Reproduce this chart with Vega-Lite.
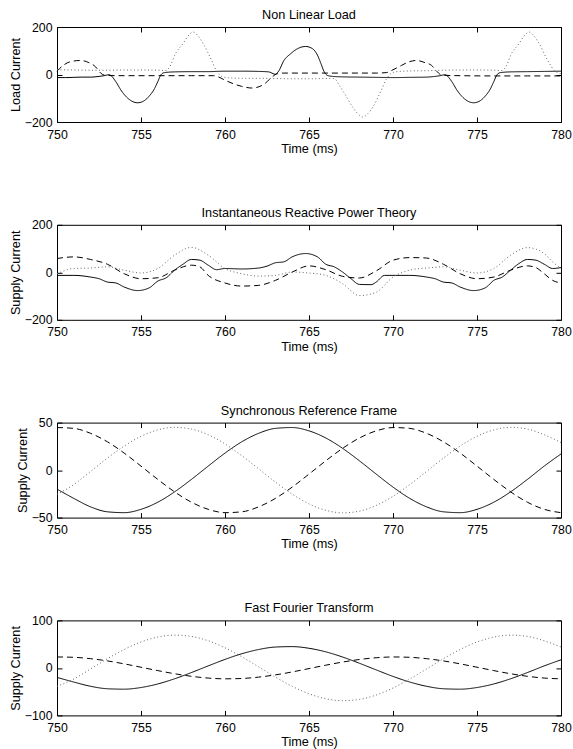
{
  "$schema": "https://vega.github.io/schema/vega-lite/v6.json",
  "background": "white",
  "padding": {"left": 9, "top": 8, "right": 8, "bottom": 5},
  "config": {
    "font": "Liberation Sans",
    "view": {"stroke": "black", "strokeWidth": 1},
    "axis": {"grid": false, "domain": false, "tickColor": "black", "tickSize": -5, "tickWidth": 1, "labelColor": "black", "titleColor": "black", "labelFontSize": 12.3, "titleFontSize": 12.7, "titleFontWeight": "normal", "labelFont": "Liberation Sans", "titleFont": "Liberation Sans", "labelFlush": false, "labelOverlap": false, "labelBound": false},
    "title": {"fontSize": 12.7, "fontWeight": "normal", "font": "Liberation Sans", "color": "black", "offset": -0.7},
    "line": {"strokeWidth": 1, "interpolate": "monotone"}
  },
  "datasets": {
    "p1": [
      {"s":"a","t":750,"v":-13},{"s":"a","t":750.5,"v":-13},{"s":"a","t":751,"v":-12},{"s":"a","t":751.5,"v":-11},{"s":"a","t":752,"v":-11},{"s":"a","t":752.5,"v":-8},{"s":"a","t":752.8,"v":-5},{"s":"a","t":753.1,"v":-1},{"s":"a","t":753.5,"v":-30},{"s":"a","t":753.8,"v":-65},{"s":"a","t":754.1,"v":-92},{"s":"a","t":754.4,"v":-110},{"s":"a","t":754.8,"v":-119},{"s":"a","t":755.2,"v":-110},{"s":"a","t":755.5,"v":-90},{"s":"a","t":755.8,"v":-60},{"s":"a","t":756,"v":-30},{"s":"a","t":756.2,"v":0},{"s":"a","t":756.4,"v":8},{"s":"a","t":757,"v":11},{"s":"a","t":758,"v":12},{"s":"a","t":759,"v":12},{"s":"a","t":760,"v":14},{"s":"a","t":761,"v":14},{"s":"a","t":762,"v":13},{"s":"a","t":762.6,"v":11},{"s":"a","t":763,"v":1},{"s":"a","t":763.2,"v":15},{"s":"a","t":763.5,"v":58},{"s":"a","t":763.9,"v":87},{"s":"a","t":764.3,"v":108},{"s":"a","t":764.8,"v":118},{"s":"a","t":765.2,"v":109},{"s":"a","t":765.5,"v":82},{"s":"a","t":765.7,"v":48},{"s":"a","t":765.9,"v":12},{"s":"a","t":766.1,"v":-4},{"s":"a","t":766.4,"v":-8},{"s":"a","t":767,"v":-10},{"s":"a","t":768,"v":-11},{"s":"a","t":769,"v":-12},{"s":"a","t":770,"v":-13},{"s":"a","t":771,"v":-12},{"s":"a","t":772,"v":-11},{"s":"a","t":772.5,"v":-8},{"s":"a","t":772.8,"v":-5},{"s":"a","t":773.1,"v":-1},{"s":"a","t":773.5,"v":-30},{"s":"a","t":773.8,"v":-65},{"s":"a","t":774.1,"v":-92},{"s":"a","t":774.4,"v":-110},{"s":"a","t":774.8,"v":-119},{"s":"a","t":775.2,"v":-110},{"s":"a","t":775.5,"v":-90},{"s":"a","t":775.8,"v":-60},{"s":"a","t":776,"v":-30},{"s":"a","t":776.2,"v":0},{"s":"a","t":776.4,"v":8},{"s":"a","t":777,"v":11},{"s":"a","t":778,"v":12},{"s":"a","t":779,"v":13},{"s":"a","t":780,"v":14},
      {"s":"b","t":750,"v":14},{"s":"b","t":750.4,"v":40},{"s":"b","t":750.8,"v":54},{"s":"b","t":751.4,"v":59},{"s":"b","t":751.9,"v":50},{"s":"b","t":752.3,"v":32},{"s":"b","t":752.6,"v":6},{"s":"b","t":752.9,"v":-4},{"s":"b","t":754,"v":-5},{"s":"b","t":756,"v":-5},{"s":"b","t":758,"v":-5},{"s":"b","t":759.3,"v":-5},{"s":"b","t":759.6,"v":-10},{"s":"b","t":760,"v":-24},{"s":"b","t":760.5,"v":-39},{"s":"b","t":761,"v":-50},{"s":"b","t":761.6,"v":-57},{"s":"b","t":762.3,"v":-42},{"s":"b","t":762.8,"v":-11},{"s":"b","t":763.1,"v":3},{"s":"b","t":763.5,"v":6},{"s":"b","t":765,"v":6},{"s":"b","t":767,"v":6},{"s":"b","t":769,"v":6},{"s":"b","t":769.6,"v":8},{"s":"b","t":770,"v":20},{"s":"b","t":770.5,"v":38},{"s":"b","t":770.9,"v":52},{"s":"b","t":771.4,"v":59},{"s":"b","t":771.9,"v":50},{"s":"b","t":772.3,"v":38},{"s":"b","t":772.6,"v":14},{"s":"b","t":772.9,"v":-3},{"s":"b","t":774,"v":-5},{"s":"b","t":776,"v":-6},{"s":"b","t":778,"v":-6},{"s":"b","t":780,"v":-6},
      {"s":"c","t":750,"v":20},{"s":"c","t":751,"v":19},{"s":"c","t":752,"v":18},{"s":"c","t":753,"v":18},{"s":"c","t":754,"v":19},{"s":"c","t":755,"v":19},{"s":"c","t":756,"v":18},{"s":"c","t":756.5,"v":17},{"s":"c","t":756.8,"v":45},{"s":"c","t":757,"v":80},{"s":"c","t":757.5,"v":130},{"s":"c","t":757.8,"v":162},{"s":"c","t":758.1,"v":179},{"s":"c","t":758.4,"v":162},{"s":"c","t":758.7,"v":130},{"s":"c","t":759.2,"v":60},{"s":"c","t":759.5,"v":15},{"s":"c","t":759.8,"v":-8},{"s":"c","t":760.2,"v":-14},{"s":"c","t":761,"v":-16},{"s":"c","t":762,"v":-16},{"s":"c","t":763,"v":-17},{"s":"c","t":764,"v":-18},{"s":"c","t":765,"v":-18},{"s":"c","t":766,"v":-17},{"s":"c","t":766.5,"v":-17},{"s":"c","t":766.8,"v":-45},{"s":"c","t":767,"v":-67},{"s":"c","t":767.6,"v":-137},{"s":"c","t":767.9,"v":-165},{"s":"c","t":768.2,"v":-179},{"s":"c","t":768.5,"v":-165},{"s":"c","t":768.8,"v":-137},{"s":"c","t":769.3,"v":-67},{"s":"c","t":769.6,"v":-20},{"s":"c","t":769.9,"v":5},{"s":"c","t":770.2,"v":12},{"s":"c","t":771,"v":15},{"s":"c","t":772,"v":16},{"s":"c","t":773,"v":18},{"s":"c","t":774,"v":19},{"s":"c","t":775,"v":19},{"s":"c","t":776,"v":18},{"s":"c","t":776.5,"v":17},{"s":"c","t":776.8,"v":45},{"s":"c","t":777,"v":80},{"s":"c","t":777.5,"v":130},{"s":"c","t":777.8,"v":162},{"s":"c","t":778.1,"v":179},{"s":"c","t":778.4,"v":162},{"s":"c","t":778.7,"v":130},{"s":"c","t":779.2,"v":60},{"s":"c","t":779.6,"v":17},{"s":"c","t":780,"v":3}
    ],
    "p2": [
      {"s":"a","t":750,"v":-13},{"s":"a","t":751,"v":-13},{"s":"a","t":752,"v":-20},{"s":"a","t":752.5,"v":-27},{"s":"a","t":753,"v":-41},{"s":"a","t":753.5,"v":-45},{"s":"a","t":754,"v":-62},{"s":"a","t":754.8,"v":-77},{"s":"a","t":755.5,"v":-65},{"s":"a","t":756,"v":-37},{"s":"a","t":756.5,"v":-23},{"s":"a","t":757,"v":9},{"s":"a","t":757.5,"v":34},{"s":"a","t":758,"v":54},{"s":"a","t":758.5,"v":51},{"s":"a","t":759,"v":30},{"s":"a","t":759.5,"v":11},{"s":"a","t":760,"v":16},{"s":"a","t":761,"v":14},{"s":"a","t":762,"v":18},{"s":"a","t":762.5,"v":26},{"s":"a","t":763,"v":40},{"s":"a","t":763.5,"v":44},{"s":"a","t":764,"v":65},{"s":"a","t":764.8,"v":79},{"s":"a","t":765.5,"v":65},{"s":"a","t":766,"v":34},{"s":"a","t":766.5,"v":23},{"s":"a","t":767,"v":1},{"s":"a","t":767.5,"v":-27},{"s":"a","t":768,"v":-51},{"s":"a","t":768.7,"v":-52},{"s":"a","t":769,"v":-41},{"s":"a","t":769.5,"v":-13},{"s":"a","t":770,"v":-13},{"s":"a","t":771,"v":-13},{"s":"a","t":772,"v":-20},{"s":"a","t":772.5,"v":-27},{"s":"a","t":773,"v":-41},{"s":"a","t":773.5,"v":-45},{"s":"a","t":774,"v":-62},{"s":"a","t":774.8,"v":-77},{"s":"a","t":775.5,"v":-65},{"s":"a","t":776,"v":-34},{"s":"a","t":776.5,"v":-20},{"s":"a","t":777,"v":9},{"s":"a","t":777.5,"v":37},{"s":"a","t":778,"v":54},{"s":"a","t":778.5,"v":51},{"s":"a","t":779,"v":34},{"s":"a","t":779.5,"v":16},{"s":"a","t":780,"v":20},
      {"s":"b","t":750,"v":58},{"s":"b","t":751,"v":65},{"s":"b","t":752,"v":54},{"s":"b","t":753,"v":34},{"s":"b","t":754,"v":-6},{"s":"b","t":755,"v":-27},{"s":"b","t":756,"v":-23},{"s":"b","t":757,"v":9},{"s":"b","t":758,"v":30},{"s":"b","t":758.5,"v":23},{"s":"b","t":759,"v":-13},{"s":"b","t":760,"v":-45},{"s":"b","t":761,"v":-58},{"s":"b","t":762,"v":-55},{"s":"b","t":763,"v":-34},{"s":"b","t":764,"v":1},{"s":"b","t":765,"v":27},{"s":"b","t":766,"v":11},{"s":"b","t":767,"v":-17},{"s":"b","t":768,"v":-24},{"s":"b","t":769,"v":6},{"s":"b","t":770,"v":51},{"s":"b","t":771,"v":62},{"s":"b","t":772,"v":60},{"s":"b","t":773,"v":34},{"s":"b","t":774,"v":-6},{"s":"b","t":775,"v":-27},{"s":"b","t":776,"v":-20},{"s":"b","t":777,"v":9},{"s":"b","t":778,"v":27},{"s":"b","t":778.5,"v":20},{"s":"b","t":779,"v":-6},{"s":"b","t":779.5,"v":-34},{"s":"b","t":780,"v":-45},
      {"s":"c","t":750,"v":-6},{"s":"c","t":751,"v":16},{"s":"c","t":752,"v":18},{"s":"c","t":753,"v":23},{"s":"c","t":754,"v":9},{"s":"c","t":755,"v":-3},{"s":"c","t":756,"v":16},{"s":"c","t":757,"v":72},{"s":"c","t":758,"v":105},{"s":"c","t":759,"v":72},{"s":"c","t":760,"v":16},{"s":"c","t":761,"v":-6},{"s":"c","t":762,"v":-16},{"s":"c","t":763,"v":-13},{"s":"c","t":764,"v":1},{"s":"c","t":765,"v":-3},{"s":"c","t":766,"v":-13},{"s":"c","t":767,"v":-48},{"s":"c","t":768,"v":-98},{"s":"c","t":769,"v":-84},{"s":"c","t":770,"v":-20},{"s":"c","t":771,"v":9},{"s":"c","t":772,"v":18},{"s":"c","t":773,"v":23},{"s":"c","t":774,"v":9},{"s":"c","t":775,"v":-3},{"s":"c","t":776,"v":16},{"s":"c","t":777,"v":72},{"s":"c","t":778,"v":104},{"s":"c","t":779,"v":79},{"s":"c","t":779.5,"v":44},{"s":"c","t":780,"v":16}
    ],
    "p3": [
      {"t":750,"a":-20,"b":44.8,"c":-25.5},{"t":751,"a":-29.8,"b":43.9,"c":-15.2},{"t":752,"a":-38.7,"b":38.7,"c":-1.4},{"t":753,"a":-43.9,"b":29.8,"c":12.6},{"t":754,"a":-44.8,"b":17.9,"c":25.3},{"t":755,"a":-41.3,"b":4.2,"c":35.6},{"t":756,"a":-33.8,"b":-9.8,"c":42.3},{"t":757,"a":-22.9,"b":-22.9,"c":45.0},{"t":758,"a":-9.8,"b":-33.8,"c":43.2},{"t":759,"a":4.2,"b":-41.3,"c":37.2},{"t":760,"a":17.9,"b":-44.8,"c":27.6},{"t":761,"a":29.8,"b":-43.9,"c":15.2},{"t":762,"a":38.7,"b":-38.7,"c":1.4},{"t":763,"a":43.9,"b":-29.8,"c":-12.6},{"t":764,"a":44.8,"b":-17.9,"c":-25.3},{"t":765,"a":41.3,"b":-4.2,"c":-35.6},{"t":766,"a":33.8,"b":9.8,"c":-42.3},{"t":767,"a":22.9,"b":22.9,"c":-45.0},{"t":768,"a":9.8,"b":33.8,"c":-43.2},{"t":769,"a":-4.2,"b":41.3,"c":-37.2},{"t":770,"a":-17.9,"b":44.8,"c":-27.6},{"t":771,"a":-29.8,"b":43.9,"c":-15.2},{"t":772,"a":-38.7,"b":38.7,"c":-1.4},{"t":773,"a":-43.9,"b":29.8,"c":12.6},{"t":774,"a":-44.8,"b":17.9,"c":25.3},{"t":775,"a":-41.3,"b":4.2,"c":35.6},{"t":776,"a":-33.8,"b":-9.8,"c":42.3},{"t":777,"a":-22.9,"b":-22.9,"c":45.0},{"t":778,"a":-9.8,"b":-33.8,"c":43.2},{"t":779,"a":4.2,"b":-41.3,"c":37.2},{"t":780,"a":17,"b":-44.8,"c":29}
    ],
    "p4": [
      {"t":750,"a":-20,"b":23.0,"c":-39},{"t":751,"a":-29.8,"b":22.3,"c":-23.4},{"t":752,"a":-38.7,"b":19.4,"c":-2.2},{"t":753,"a":-43.9,"b":14.7,"c":19.3},{"t":754,"a":-44.8,"b":8.5,"c":38.8},{"t":755,"a":-41.3,"b":1.4,"c":54.5},{"t":756,"a":-33.8,"b":-5.7,"c":64.9},{"t":757,"a":-22.9,"b":-12.3,"c":69.0},{"t":758,"a":-9.8,"b":-17.7,"c":66.3},{"t":759,"a":4.2,"b":-21.4,"c":57.1},{"t":760,"a":17.9,"b":-23.0,"c":42.3},{"t":761,"a":29.8,"b":-22.3,"c":23.4},{"t":762,"a":38.7,"b":-19.4,"c":2.2},{"t":763,"a":43.9,"b":-14.7,"c":-19.3},{"t":764,"a":44.8,"b":-8.5,"c":-38.8},{"t":765,"a":41.3,"b":-1.4,"c":-54.5},{"t":766,"a":33.8,"b":5.7,"c":-64.9},{"t":767,"a":22.9,"b":12.3,"c":-69.0},{"t":768,"a":9.8,"b":17.7,"c":-66.3},{"t":769,"a":-4.2,"b":21.4,"c":-57.1},{"t":770,"a":-17.9,"b":23.0,"c":-42.3},{"t":771,"a":-29.8,"b":22.3,"c":-23.4},{"t":772,"a":-38.7,"b":19.4,"c":-2.2},{"t":773,"a":-43.9,"b":14.7,"c":19.3},{"t":774,"a":-44.8,"b":8.5,"c":38.8},{"t":775,"a":-41.3,"b":1.4,"c":54.5},{"t":776,"a":-33.8,"b":-5.7,"c":64.9},{"t":777,"a":-22.9,"b":-12.3,"c":69.0},{"t":778,"a":-9.8,"b":-17.7,"c":66.3},{"t":779,"a":4.2,"b":-21.4,"c":57.1},{"t":780,"a":17,"b":-23.0,"c":44}
    ]
  },
  "spacing": 102.8,
  "bounds": "flush",
  "vconcat": [
    {
      "title": "Non Linear Load",
      "width": 504, "height": 95,
      "data": {"name": "p1"},
      "resolve": {"axis": {"x": "independent", "y": "independent"}},
      "layer": [
        {"mark": {"type": "line"}, "encoding": {
          "x": {"field": "t", "type": "quantitative", "scale": {"domain": [750, 780], "nice": false, "zero": false}, "axis": {"orient": "bottom", "values": [750,755,760,765,770,775,780], "title": "Time (ms)", "labelPadding": 11, "titlePadding": 2}},
          "y": {"field": "v", "type": "quantitative", "scale": {"domain": [-200, 200], "nice": false}, "axis": {"orient": "left", "values": [-200,0,200], "title": "Load Current", "labelPadding": 10, "titlePadding": 1.7}},
          "color": {"field": "s", "type": "nominal", "scale": {"domain": ["a","b","c"], "range": ["#000000","#000000","#666666"]}, "legend": null},
          "strokeDash": {"field": "s", "type": "nominal", "scale": {"domain": ["a","b","c"], "range": [[1,0],[6,4],[1,2.5]]}, "legend": null}
        }},
        {"mark": {"type": "line", "opacity": 0}, "encoding": {
          "x": {"field": "t", "type": "quantitative", "scale": {"domain": [750, 780], "nice": false, "zero": false}, "axis": {"orient": "top", "values": [750,755,760,765,770,775,780], "labels": false, "title": null}},
          "y": {"field": "v", "type": "quantitative", "scale": {"domain": [-200, 200], "nice": false}, "axis": {"orient": "right", "values": [-200,0,200], "labels": false, "title": null}},
          "detail": {"field": "s"}
        }}
      ]
    },
    {
      "title": "Instantaneous Reactive Power Theory",
      "width": 504, "height": 95,
      "data": {"name": "p2"},
      "resolve": {"axis": {"x": "independent", "y": "independent"}},
      "layer": [
        {"mark": {"type": "line"}, "encoding": {
          "x": {"field": "t", "type": "quantitative", "scale": {"domain": [750, 780], "nice": false, "zero": false}, "axis": {"orient": "bottom", "values": [750,755,760,765,770,775,780], "title": "Time (ms)", "labelPadding": 11, "titlePadding": 2}},
          "y": {"field": "v", "type": "quantitative", "scale": {"domain": [-200, 200], "nice": false}, "axis": {"orient": "left", "values": [-200,0,200], "title": "Supply Current", "labelPadding": 10, "titlePadding": 1.7}},
          "color": {"field": "s", "type": "nominal", "scale": {"domain": ["a","b","c"], "range": ["#000000","#000000","#666666"]}, "legend": null},
          "strokeDash": {"field": "s", "type": "nominal", "scale": {"domain": ["a","b","c"], "range": [[1,0],[6,4],[1,2.5]]}, "legend": null}
        }},
        {"mark": {"type": "line", "opacity": 0}, "encoding": {
          "x": {"field": "t", "type": "quantitative", "scale": {"domain": [750, 780], "nice": false, "zero": false}, "axis": {"orient": "top", "values": [750,755,760,765,770,775,780], "labels": false, "title": null}},
          "y": {"field": "v", "type": "quantitative", "scale": {"domain": [-200, 200], "nice": false}, "axis": {"orient": "right", "values": [-200,0,200], "labels": false, "title": null}},
          "detail": {"field": "s"}
        }}
      ]
    },
    {
      "title": "Synchronous Reference Frame",
      "width": 504, "height": 95,
      "data": {"name": "p3"},
      "transform": [{"fold": ["a","b","c"], "as": ["s","v"]}],
      "resolve": {"axis": {"x": "independent", "y": "independent"}},
      "layer": [
        {"mark": {"type": "line"}, "encoding": {
          "x": {"field": "t", "type": "quantitative", "scale": {"domain": [750, 780], "nice": false, "zero": false}, "axis": {"orient": "bottom", "values": [750,755,760,765,770,775,780], "title": "Time (ms)", "labelPadding": 11, "titlePadding": 2}},
          "y": {"field": "v", "type": "quantitative", "scale": {"domain": [-50, 50], "nice": false}, "axis": {"orient": "left", "values": [-50,0,50], "title": "Supply Current", "labelPadding": 10, "titlePadding": 1.7}},
          "color": {"field": "s", "type": "nominal", "scale": {"domain": ["a","b","c"], "range": ["#000000","#000000","#666666"]}, "legend": null},
          "strokeDash": {"field": "s", "type": "nominal", "scale": {"domain": ["a","b","c"], "range": [[1,0],[6,4],[1,2.5]]}, "legend": null}
        }},
        {"mark": {"type": "line", "opacity": 0}, "encoding": {
          "x": {"field": "t", "type": "quantitative", "scale": {"domain": [750, 780], "nice": false, "zero": false}, "axis": {"orient": "top", "values": [750,755,760,765,770,775,780], "labels": false, "title": null}},
          "y": {"field": "v", "type": "quantitative", "scale": {"domain": [-50, 50], "nice": false}, "axis": {"orient": "right", "values": [-50,0,50], "labels": false, "title": null}},
          "detail": {"field": "s"}
        }}
      ]
    },
    {
      "title": "Fast Fourier Transform",
      "width": 504, "height": 95,
      "data": {"name": "p4"},
      "transform": [{"fold": ["a","b","c"], "as": ["s","v"]}],
      "resolve": {"axis": {"x": "independent", "y": "independent"}},
      "layer": [
        {"mark": {"type": "line"}, "encoding": {
          "x": {"field": "t", "type": "quantitative", "scale": {"domain": [750, 780], "nice": false, "zero": false}, "axis": {"orient": "bottom", "values": [750,755,760,765,770,775,780], "title": "Time (ms)", "labelPadding": 11, "titlePadding": 2}},
          "y": {"field": "v", "type": "quantitative", "scale": {"domain": [-100, 100], "nice": false}, "axis": {"orient": "left", "values": [-100,0,100], "title": "Supply Current", "labelPadding": 10, "titlePadding": 1.7}},
          "color": {"field": "s", "type": "nominal", "scale": {"domain": ["a","b","c"], "range": ["#000000","#000000","#666666"]}, "legend": null},
          "strokeDash": {"field": "s", "type": "nominal", "scale": {"domain": ["a","b","c"], "range": [[1,0],[6,4],[1,2.5]]}, "legend": null}
        }},
        {"mark": {"type": "line", "opacity": 0}, "encoding": {
          "x": {"field": "t", "type": "quantitative", "scale": {"domain": [750, 780], "nice": false, "zero": false}, "axis": {"orient": "top", "values": [750,755,760,765,770,775,780], "labels": false, "title": null}},
          "y": {"field": "v", "type": "quantitative", "scale": {"domain": [-100, 100], "nice": false}, "axis": {"orient": "right", "values": [-100,0,100], "labels": false, "title": null}},
          "detail": {"field": "s"}
        }}
      ]
    }
  ]
}
